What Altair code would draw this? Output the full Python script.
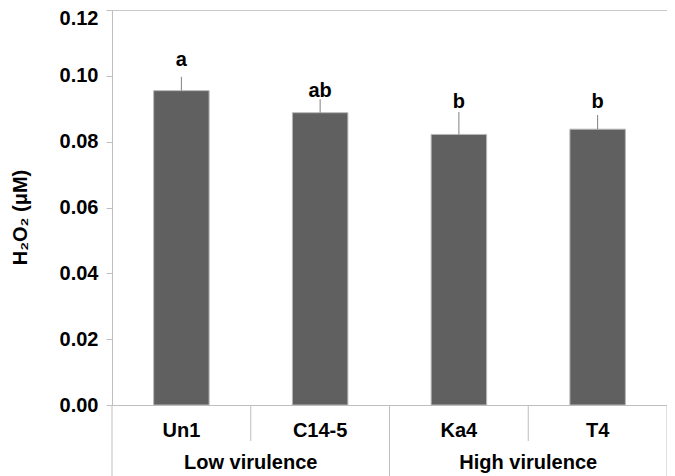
import altair as alt
import pandas as pd

cats = ["Un1", "C14-5", "Ka4", "T4"]
means = [0.0955, 0.0888, 0.0822, 0.0838]
err_top = [0.0997, 0.0929, 0.0890, 0.0881]
letters = ["a", "ab", "b", "b"]
letter_y = [0.1030, 0.0936, 0.0902, 0.0902]
groups = ["Low virulence", "High virulence"]
group_anchor = ["Un1", "Ka4"]
y_ticks = [0.0, 0.02, 0.04, 0.06, 0.08, 0.10, 0.12]

df = pd.DataFrame({"cat": cats, "mean": means, "err": err_top,
                   "letter": letters, "ly": letter_y})
grp = pd.DataFrame({"group": groups, "anchor": group_anchor})
long_start = pd.DataFrame({"cat": ["Un1", "Ka4"]})
long_end = pd.DataFrame({"cat": ["T4"]})
short_end = pd.DataFrame({"cat": ["Un1", "Ka4"]})

FONT = "Liberation Sans"
LINE = "#bfbfbf"
FS = 20
W = 555
H = 395

# band scale: bandwidth = 0.4 step, outer padding 0.3 step
xscale = alt.Scale(domain=cats, paddingInner=0.6, paddingOuter=0.3)
yscale = alt.Scale(domain=[0, 0.12], nice=False)
GAP = 0.3 * W / 4  # distance from bar edge to band boundary

base = alt.Chart(df)

bars = base.mark_bar(color="#606060", stroke="#b8b8b8", strokeWidth=1).encode(
    x=alt.X("cat:N", scale=xscale, title=None,
            axis=alt.Axis(ticks=False, labelPadding=15,
                          labelAngle=0, labelFontSize=FS, labelFontWeight="bold",
                          labelColor="black", labelFont=FONT,
                          domainColor=LINE)),
    y=alt.Y("mean:Q", scale=yscale,
            axis=alt.Axis(values=y_ticks, format=".2f", grid=False,
                          title="H₂O₂ (μM)", titleFont=FONT, titleFontSize=FS,
                          titleFontWeight="bold", titleColor="black",
                          titleAngle=270, titleX=-92, titleY=207,
                          titleAlign="center", titleBaseline="middle",
                          labelFontSize=FS, labelFontWeight="bold",
                          labelColor="black", labelFont=FONT, labelPadding=8,
                          labelOffset={"expr": "datum.value > 0.119 ? 8 : 0"},
                          tickSize=6, domainColor=LINE, tickColor=LINE)),
)

errs = base.mark_rule(color="#808080", strokeWidth=1).encode(
    x=alt.X("cat:N", scale=xscale),
    y=alt.Y("mean:Q", scale=yscale),
    y2="err:Q",
)

letter_text = base.mark_text(fontSize=FS, fontWeight="bold", font=FONT,
                             baseline="alphabetic", color="black").encode(
    x=alt.X("cat:N", scale=xscale),
    y=alt.Y("ly:Q", scale=yscale),
    text="letter:N",
)

group_text = alt.Chart(grp).mark_text(fontSize=FS, fontWeight="bold", font=FONT,
                                      baseline="middle", color="black",
                                      xOffset=GAP).encode(
    x=alt.X("anchor:N", scale=xscale, bandPosition=1),
    y=alt.value(453),
    text="group:N",
)

seps_long0 = alt.Chart(long_start).mark_rule(color=LINE, strokeWidth=1,
                                             xOffset=-GAP).encode(
    x=alt.X("cat:N", scale=xscale, bandPosition=0),
    y=alt.value(395),
    y2=alt.value(470),
)
seps_long1 = alt.Chart(long_end).mark_rule(color=LINE, strokeWidth=1,
                                           xOffset=GAP).encode(
    x=alt.X("cat:N", scale=xscale, bandPosition=1),
    y=alt.value(395),
    y2=alt.value(470),
)
seps_short = alt.Chart(short_end).mark_rule(color=LINE, strokeWidth=1,
                                            xOffset=GAP).encode(
    x=alt.X("cat:N", scale=xscale, bandPosition=1),
    y=alt.value(395),
    y2=alt.value(431),
)

chart = alt.layer(bars, errs, letter_text, group_text,
                  seps_long0, seps_long1, seps_short).properties(
    width=W, height=H,
    padding={"left": 104, "top": 2, "right": 0, "bottom": 71},
    autosize=alt.AutoSizeParams(type="none"),
).configure(font=FONT).configure_view(stroke="#c8c8c8")

chart.save("out.html", embed_options={"renderer": "svg", "actions": False})
